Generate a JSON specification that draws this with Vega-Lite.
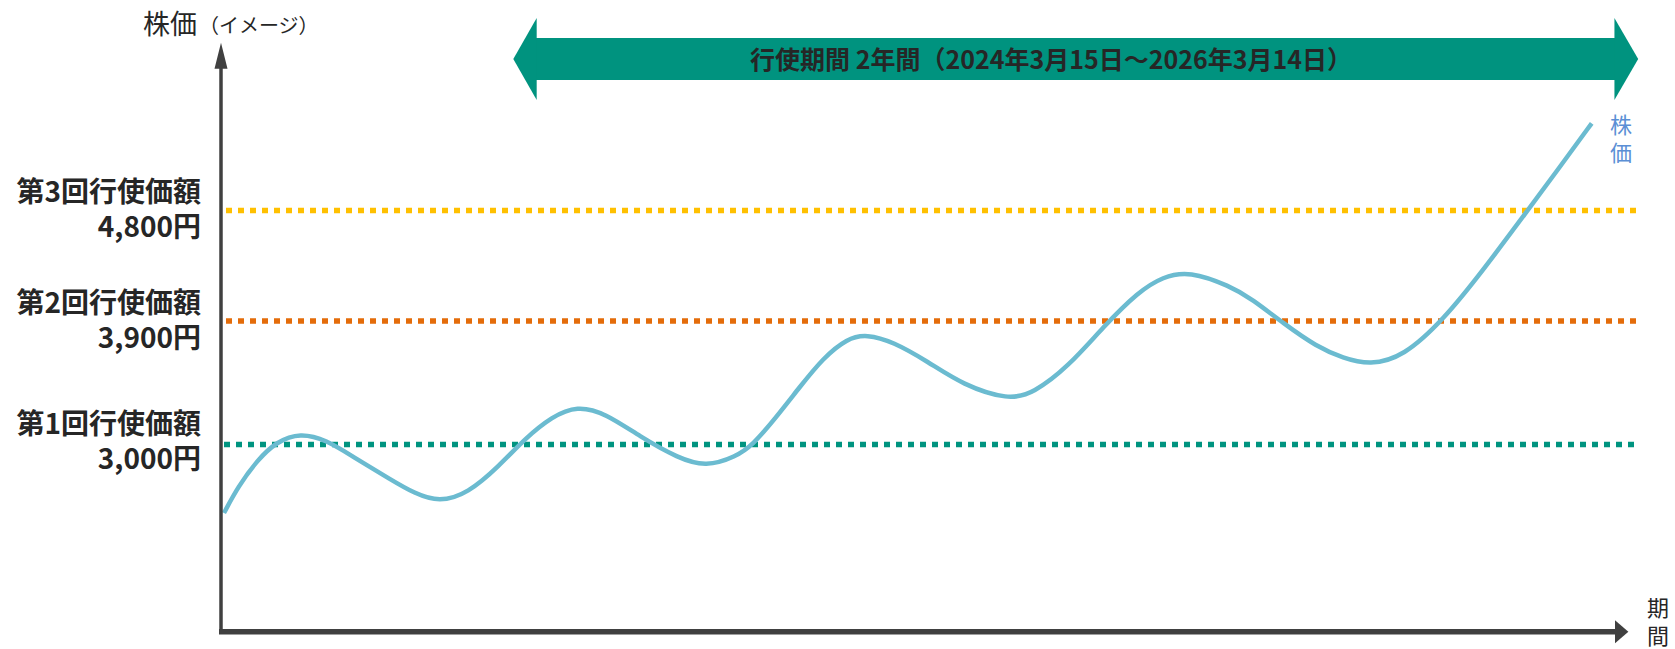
{
  "$schema": "https://vega.github.io/schema/vega-lite/v6.json",
  "width": 1675,
  "height": 649,
  "autosize": {"type": "none", "contains": "padding"},
  "padding": 0,
  "background": "white",
  "config": {"view": {"stroke": null}},
  "datasets": {
    "band": [{"x": 530, "x2": 1620, "y": 611, "y2": 569}],
    "bandLeft": [{"x": 525, "y": 590}],
    "bandRight": [{"x": 1626.3, "y": 590}],
    "yaxis": [{"x": 221, "y": 17, "y2": 585}],
    "xaxis": [{"x": 219, "x2": 1617, "y": 17.3}],
    "yhead": [{"x": 221, "y": 593.3}],
    "xhead": [{"x": 1621.7, "y": 17.3}],
    "strikes": [
      {"x": 226, "x2": 1636, "y": 438.5, "level": "第3回"},
      {"x": 226, "x2": 1636, "y": 328, "level": "第2回"},
      {"x": 224, "x2": 1636, "y": 204.5, "level": "第1回"}
    ],
    "price": [
      {"x": 224, "y": 136}, {"x": 238, "y": 162.3}, {"x": 257.4, "y": 189}, {"x": 276.5, "y": 207.3},
      {"x": 300.3, "y": 216.3}, {"x": 326.3, "y": 209}, {"x": 353, "y": 192.3}, {"x": 391.4, "y": 169},
      {"x": 414.3, "y": 155.7}, {"x": 439.2, "y": 146.7}, {"x": 468, "y": 155.7}, {"x": 498.5, "y": 182.3},
      {"x": 525.3, "y": 210.7}, {"x": 552, "y": 232.3}, {"x": 577, "y": 243.3}, {"x": 605.7, "y": 235.7},
      {"x": 640, "y": 212.3}, {"x": 678.4, "y": 190.7}, {"x": 706, "y": 182.3}, {"x": 735.8, "y": 192.3},
      {"x": 752.6, "y": 204}, {"x": 774, "y": 229}, {"x": 800, "y": 262.3}, {"x": 822.8, "y": 290.7},
      {"x": 847.3, "y": 310.7}, {"x": 866.6, "y": 314.7}, {"x": 893, "y": 307.3}, {"x": 928, "y": 287.3},
      {"x": 963, "y": 264}, {"x": 1008.7, "y": 249}, {"x": 1033.2, "y": 255.7}, {"x": 1068.3, "y": 282.3},
      {"x": 1103.4, "y": 322.3}, {"x": 1138.4, "y": 357.3}, {"x": 1163, "y": 372.3}, {"x": 1189.3, "y": 378},
      {"x": 1230, "y": 363}, {"x": 1252, "y": 350}, {"x": 1283.3, "y": 325.7}, {"x": 1316.7, "y": 302.3},
      {"x": 1343, "y": 291}, {"x": 1370, "y": 284}, {"x": 1403.3, "y": 292.3}, {"x": 1443.3, "y": 329},
      {"x": 1483.3, "y": 379}, {"x": 1526.7, "y": 437.3}, {"x": 1560, "y": 482.3}, {"x": 1591.7, "y": 525.7}
    ],
    "leftLabels": [
      {"x": 201, "y": 455, "t": "第3回行使価額\n4,800円"},
      {"x": 201, "y": 344, "t": "第2回行使価額\n3,900円"},
      {"x": 201, "y": 223, "t": "第1回行使価額\n3,000円"}
    ],
    "bandText": [{"x": 1051, "y": 588, "t": "行使期間 2年間（2024年3月15日～2026年3月14日）"}],
    "title1": [{"x": 143, "y": 623, "t": "株価"}],
    "title2": [{"x": 199, "y": 622, "t": "（イメージ）"}],
    "seriesLabel": [{"x": 1621, "y": 523, "t": "株\n価"}],
    "xTitle": [{"x": 1658, "y": 40, "t": "期\n間"}]
  },
  "encoding": {
    "x": {"field": "x", "type": "quantitative", "scale": {"domain": [0, 1675], "nice": false, "zero": false}, "axis": null},
    "y": {"field": "y", "type": "quantitative", "scale": {"domain": [0, 649], "nice": false, "zero": false}, "axis": null}
  },
  "layer": [
    {
      "data": {"name": "band"},
      "mark": {"type": "rect", "color": "#00937F"},
      "encoding": {"x2": {"field": "x2"}, "y2": {"field": "y2"}}
    },
    {
      "data": {"name": "bandLeft"},
      "mark": {"type": "point", "shape": "M-0.285,0L0.285,-1L0.285,1Z", "filled": true, "opacity": 1, "color": "#00937F", "size": 6724, "strokeWidth": 0}
    },
    {
      "data": {"name": "bandRight"},
      "mark": {"type": "point", "shape": "M-0.29,-1L0.29,0L-0.29,1Z", "filled": true, "opacity": 1, "color": "#00937F", "size": 6724, "strokeWidth": 0}
    },
    {
      "data": {"name": "strikes"},
      "mark": {"type": "rule", "strokeWidth": 5.5, "strokeDash": [6, 6]},
      "encoding": {
        "x2": {"field": "x2"},
        "color": {"field": "level", "type": "nominal", "scale": {"domain": ["第1回", "第2回", "第3回"], "range": ["#009480", "#E46C0A", "#FFC000"]}, "legend": null}
      }
    },
    {
      "data": {"name": "price"},
      "mark": {"type": "line", "interpolate": "basis", "color": "#6BBBD0", "strokeWidth": 4.5}
    },
    {
      "data": {"name": "yaxis"},
      "mark": {"type": "rule", "color": "#404040", "strokeWidth": 3.5},
      "encoding": {"y2": {"field": "y2"}}
    },
    {
      "data": {"name": "xaxis"},
      "mark": {"type": "rule", "color": "#404040", "strokeWidth": 5.5},
      "encoding": {"x2": {"field": "x2"}}
    },
    {
      "data": {"name": "yhead"},
      "mark": {"type": "point", "shape": "M-0.5,1L0,-1L0.5,1Z", "filled": true, "opacity": 1, "color": "#404040", "size": 676, "strokeWidth": 0}
    },
    {
      "data": {"name": "xhead"},
      "mark": {"type": "point", "shape": "M-0.58,-1L0.58,0L-0.58,1Z", "filled": true, "opacity": 1, "color": "#404040", "size": 529, "strokeWidth": 0}
    },
    {
      "data": {"name": "leftLabels"},
      "mark": {"type": "text", "align": "right", "baseline": "middle", "lineBreak": "\n", "lineHeight": 35, "font": "Noto Sans CJK JP", "fontWeight": "bold", "fontSize": 28, "color": "#262626"},
      "encoding": {"text": {"field": "t"}}
    },
    {
      "data": {"name": "bandText"},
      "mark": {"type": "text", "align": "center", "baseline": "middle", "font": "Noto Sans CJK JP", "fontWeight": "bold", "fontSize": 25, "color": "#262626"},
      "encoding": {"text": {"field": "t"}}
    },
    {
      "data": {"name": "title1"},
      "mark": {"type": "text", "align": "left", "baseline": "middle", "font": "Noto Sans CJK JP", "fontSize": 27, "color": "#262626"},
      "encoding": {"text": {"field": "t"}}
    },
    {
      "data": {"name": "title2"},
      "mark": {"type": "text", "align": "left", "baseline": "middle", "font": "Noto Sans CJK JP", "fontSize": 20, "color": "#262626"},
      "encoding": {"text": {"field": "t"}}
    },
    {
      "data": {"name": "seriesLabel"},
      "mark": {"type": "text", "align": "center", "baseline": "middle", "lineBreak": "\n", "lineHeight": 28, "font": "Noto Sans CJK JP", "fontSize": 22, "color": "#5B8FD5"},
      "encoding": {"text": {"field": "t"}}
    },
    {
      "data": {"name": "xTitle"},
      "mark": {"type": "text", "align": "center", "baseline": "middle", "lineBreak": "\n", "lineHeight": 28, "font": "Noto Sans CJK JP", "fontSize": 22, "color": "#262626"},
      "encoding": {"text": {"field": "t"}}
    }
  ]
}
